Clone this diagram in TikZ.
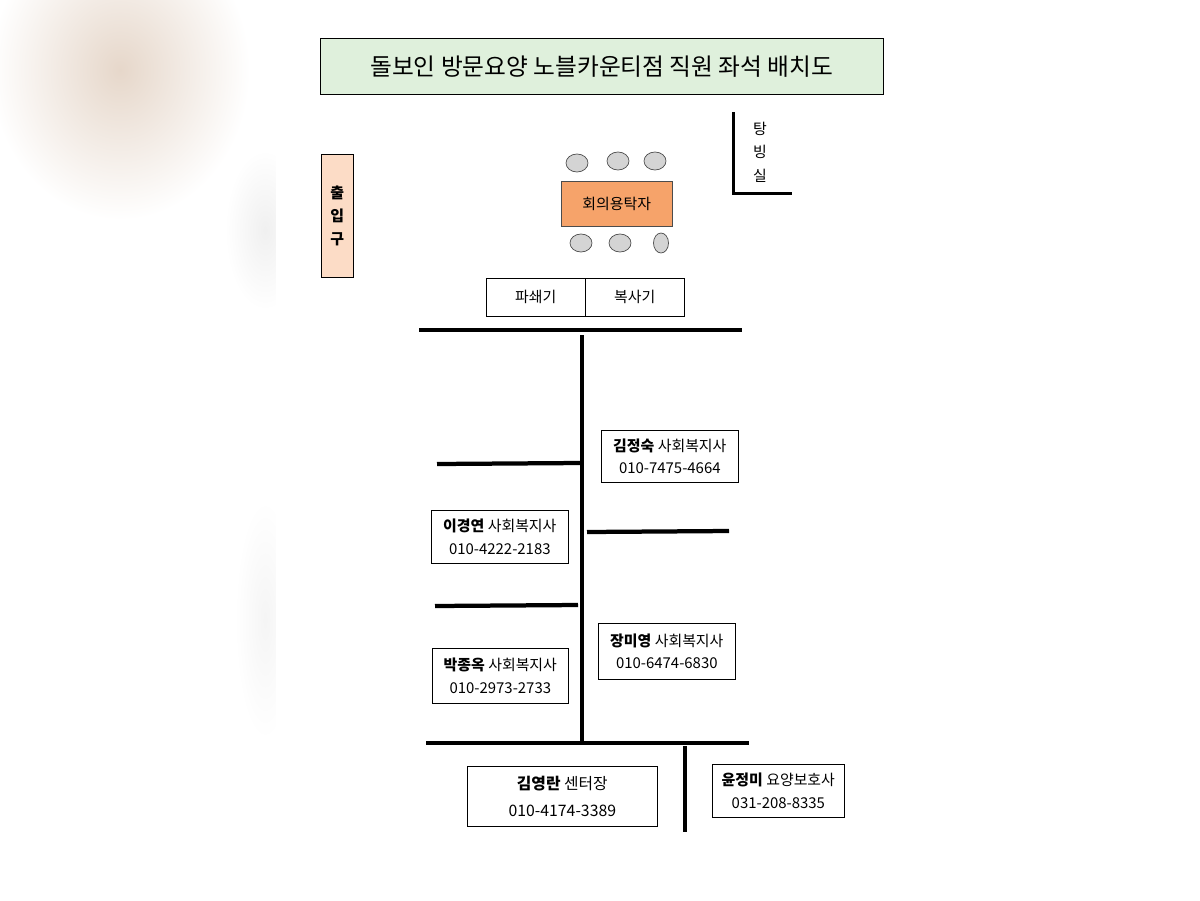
\documentclass[tikz,border=0pt]{standalone}
\usepackage{fontspec}
\setmainfont{Noto Sans CJK KR}
\usepackage{tikz}
\usetikzlibrary{positioning,shapes.geometric}
\definecolor{titlegreen}{HTML}{DFF0DC}
\definecolor{doorpeach}{HTML}{FCDCC6}
\definecolor{tableorange}{HTML}{F6A36A}
\definecolor{chairgray}{HTML}{D4D4D4}
\definecolor{blurbeige}{HTML}{E6D7CA}
\tikzstyle{wall} = [line width=0.085cm, black]
\tikzstyle{desk} = [rectangle, draw=black, fill=white, align=center, inner sep=0pt, font=\fontsize{8.5}{13}\selectfont]
\tikzstyle{chair} = [ellipse, draw=black!70, fill=chairgray, inner sep=0pt, minimum width=0.44cm, minimum height=0.36cm]
\tikzstyle{lbl} = [inner sep=0pt, font=\fontsize{8.5}{11}\selectfont]

\begin{document}
\begin{tikzpicture}[x=0.02cm,y=-0.02cm]
\useasboundingbox (0,0) rectangle (1200,900);
\fill[white] (0,0) rectangle (1200,900);
% blurred background on the left
\shade[inner color=blurbeige, outer color=white] (120,70) ellipse (130 and 150);
\shade[inner color=black!6, outer color=white] (265,230) ellipse (40 and 80);
\shade[inner color=black!4, outer color=white] (265,620) ellipse (30 and 120);
\fill[white] (276,100) rectangle (318,900);

% title
\node [draw=black, fill=titlegreen, minimum width=11.26cm, minimum height=1.12cm, anchor=north west, inner sep=0pt, font=\fontsize{13.5}{16}\selectfont] (title) at (320,38) {돌보인 방문요양 노블카운티점 직원 좌석 배치도};

% entrance
\node [draw=black, fill=doorpeach, minimum width=0.64cm, minimum height=2.46cm, anchor=north west, inner sep=0pt, align=center, font=\bfseries\fontsize{8.5}{13}\selectfont] (door) at (321,154) {출\\입\\구};

% pantry
\draw [line width=0.06cm] (733,112) -- (733,193) -- (792,193);
\node [lbl, align=center, font=\fontsize{8.5}{13.3}\selectfont] (pantry) at (760,152) {탕\\빙\\실};

% meeting table and chairs
\node [draw=black!70, fill=tableorange, minimum width=2.22cm, minimum height=0.9cm, anchor=north west, inner sep=0pt, font=\fontsize{8.5}{11}\selectfont] (table) at (561,181) {회의용탁자};
\node [chair] (c1) at (577,163) {};
\node [chair] (c2) at (618,161) {};
\node [chair] (c3) at (655,161) {};
\node [chair] (c4) at (581,243) {};
\node [chair] (c5) at (620,243) {};
\node [chair, minimum width=0.3cm, minimum height=0.4cm] (c6) at (661,243) {};

% shredder and copier
\node [desk, minimum width=1.98cm, minimum height=0.76cm, anchor=north west] (shred) at (486,278) {파쇄기};
\node [desk, minimum width=1.98cm, minimum height=0.76cm, anchor=north west] (copy) at (585,278) {복사기};

% partitions
\draw [wall] (419,330) -- (742,330);
\draw [wall] (582,335) -- (582,743);
\draw [wall] (437,464) -- (580,463);
\draw [wall] (587,532) -- (729,531);
\draw [wall] (435,606) -- (578,605);
\draw [wall] (426,743) -- (749,743);
\draw [wall] (685,746) -- (685,832);

% staff desks
\node [desk, minimum width=2.74cm, minimum height=1.04cm, anchor=north west] (kimjs) at (601,430) {\textbf{김정숙} 사회복지사\\010-7475-4664};
\node [desk, minimum width=2.74cm, minimum height=1.06cm, anchor=north west] (leegy) at (431,510) {\textbf{이경연} 사회복지사\\010-4222-2183};
\node [desk, minimum width=2.74cm, minimum height=1.12cm, anchor=north west] (jangmy) at (598,623) {\textbf{장미영} 사회복지사\\010-6474-6830};
\node [desk, minimum width=2.72cm, minimum height=1.1cm, anchor=north west] (parkjo) at (432,648) {\textbf{박종옥} 사회복지사\\010-2973-2733};
\node [desk, minimum width=3.8cm, minimum height=1.2cm, anchor=north west, font=\fontsize{9}{15}\selectfont] (kimyr) at (467,766) {\textbf{김영란} 센터장\\010-4174-3389};
\node [desk, minimum width=2.64cm, minimum height=1.06cm, anchor=north west] (yunjm) at (712,764) {\textbf{윤정미} 요양보호사\\031-208-8335};
\end{tikzpicture}
\end{document}
